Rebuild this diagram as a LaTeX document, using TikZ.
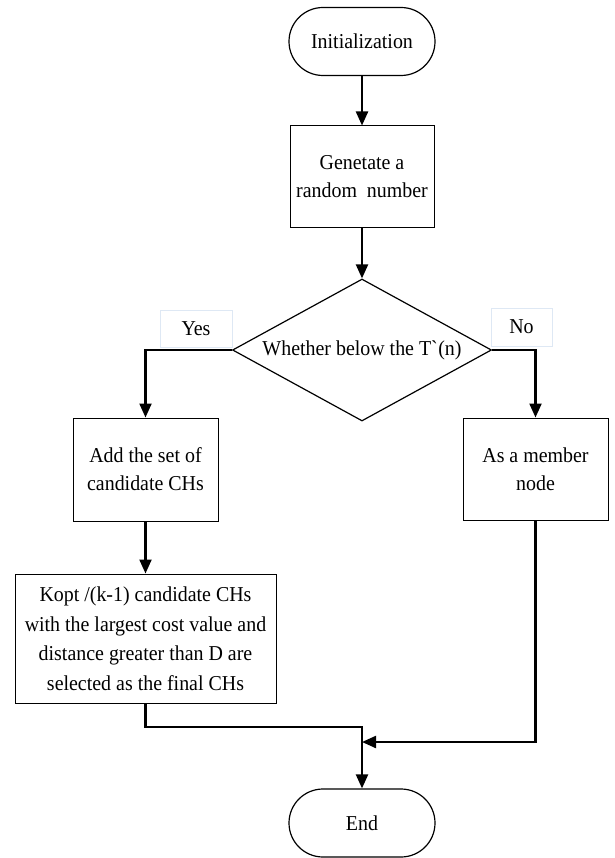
\documentclass[tikz,border=0pt]{standalone}
\usepackage{fontspec}
\setmainfont[FakeStretch=0.94]{Liberation Serif}
\usetikzlibrary{shapes.geometric,arrows.meta}
\definecolor{lblborder}{RGB}{222,232,244}
\begin{document}
\begin{tikzpicture}[x=1pt,y=-1pt,
  every node/.style={font=\fontsize{21.2}{28}\selectfont, align=center, inner sep=0pt},
  term/.style={draw, line width=1.2pt, rounded corners=34pt, minimum width=146pt, minimum height=68pt},
  proc/.style={draw, line width=1pt},
  lbl/.style={draw=lblborder, line width=0.8pt, fill=white},
  conn/.style={line width=2.2pt, -{Triangle[length=14pt,width=12pt]}},
  plain/.style={line width=2.2pt}
]
\useasboundingbox (0,0) rectangle (614,858);
\node[term] (init) at (362,41.5) {Initialization};
\node[proc, minimum width=144pt, minimum height=102pt] (gen) at (362,177) {Genetate a\\random~~number};
\node[diamond, draw, line width=1.2pt, minimum width=259pt, minimum height=142pt] (dia) at (362,350) {};
\node (diatext) at (362,350) {Whether below the T\textasciigrave(n)};
\node[lbl, minimum width=72pt, minimum height=37pt] (yes) at (196,328.5) {Yes};
\node[lbl, minimum width=61pt, minimum height=38pt] (no) at (521.5,327) {No};
\node[proc, minimum width=145pt, minimum height=103pt] (add) at (145.5,469.5) {Add the set of\\candidate CHs};
\node[proc, minimum width=145pt, minimum height=102pt] (mem) at (535.5,469) {As a member\\node};
\node[proc, minimum width=261pt, minimum height=129pt, font=\fontsize{21.2}{29.5}\selectfont] (kopt) at (145.5,638.5) {Kopt /(k-1) candidate CHs\\with the largest cost value and\\distance greater than D are\\selected as the final CHs};
\node[term] (end) at (362,823) {End};
\coordinate (j1) at (362,727);
\coordinate (j2) at (362,742);
\draw[conn] (init.south) -- (gen.north);
\draw[conn] (gen.south) -- (dia.north);
\draw[conn] (dia.west) -| (add.north);
\draw[conn] (dia.east) -| (mem.north);
\draw[conn] (add.south) -- (kopt.north);
\draw[conn] (kopt.south) |- (j1) -- (end.north);
\draw[conn] (mem.south) |- (j2);
\end{tikzpicture}
\end{document}
